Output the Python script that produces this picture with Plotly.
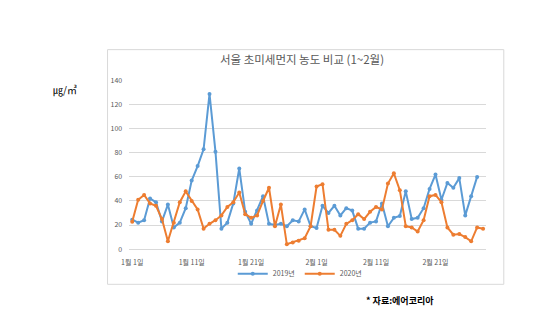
import plotly.graph_objects as go

title_text = "서울 초미세먼지 농도 비교 (1~2월)"
series_names = ["2019년", "2020년"]
tick_idx = [0, 10, 20, 31, 41, 51]
tick_labels = ["1월 1일", "1월 11일", "1월 21일", "2월 1일", "2월 11일", "2월 21일"]
y_ticks = [0, 20, 40, 60, 80, 100, 120, 140]

pm_2019 = [24.5, 22, 24, 42, 39, 23, 37, 18, 22, 34,
           57, 69, 83, 129, 81, 17, 22, 38, 67, 31,
           21, 32, 44, 21, 20, 21, 19, 24, 23, 33,
           19, 17.5, 36, 30, 36, 28, 34, 32, 17, 17,
           22, 23, 38, 19, 26, 27.6, 48, 25, 26, 34,
           50, 62, 41, 55, 51, 59, 28, 44, 60]
pm_2020 = [22.7, 41, 45, 38, 36, 25, 6.5, 22, 39, 48,
           40, 33, 17, 21, 24, 28, 35, 39, 47, 29,
           26, 28, 40, 51, 19, 37, 4, 5.5, 7, 9,
           19, 52, 54, 16, 16, 11, 21, 24, 29, 25,
           31, 35, 33, 54.5, 63, 49, 19, 18, 14.6, 24,
           44, 45, 39, 18, 12, 12.5, 10, 6.5, 18, 17]

colors = ["#5B9BD5", "#ED7D31"]
FONT = "Noto Sans CJK KR"
W, H = 558, 330

fig = go.Figure()
for name, vals, c in zip(series_names, [pm_2019, pm_2020], colors):
    fig.add_trace(go.Scatter(
        x=list(range(len(vals))), y=vals, name=name, mode="lines+markers",
        line=dict(color=c, width=2), marker=dict(color=c, size=4, symbol="circle"),
    ))

fig.update_layout(
    width=W, height=H, margin=dict(l=0, r=0, t=0, b=0),
    paper_bgcolor="white", plot_bgcolor="white",
    font=dict(family=FONT, color="#595959", size=7),
    title=dict(text=title_text, x=302 / W, xanchor="center", y=1 - 60 / H, yanchor="middle",
               font=dict(family=FONT, size=11.5, color="#595959")),
    xaxis=dict(domain=[123 / W, 485 / W], range=[-0.5, 59.5], tickmode="array",
               tickvals=tick_idx, ticktext=tick_labels, showgrid=False, zeroline=False,
               showline=True, linecolor="#d9d9d9", linewidth=1, ticks="",
               ticklabelstandoff=6,
               tickfont=dict(size=7, color="#595959")),
    yaxis=dict(domain=[1 - 250.7 / H, 1 - 77 / H], range=[0, 140], tickmode="array",
               tickvals=y_ticks, showgrid=True, gridcolor="#d9d9d9", gridwidth=1,
               zeroline=False, ticks="", ticklabelstandoff=6,
               tickfont=dict(size=7, color="#595959")),
    legend=dict(orientation="h", x=296 / W, xanchor="center", y=1 - 276 / H, yanchor="middle",
                font=dict(size=7, color="#595959"), itemwidth=30, bgcolor="rgba(0,0,0,0)",
                tracegroupgap=0),
    showlegend=True,
)

fig.add_shape(type="rect", xref="paper", yref="paper",
              x0=101 / W, x1=503 / W, y0=1 - 287 / H, y1=1 - 45 / H,
              line=dict(color="#d9d9d9", width=1), fillcolor="rgba(0,0,0,0)", layer="below")

fig.add_annotation(text="㎍/㎥", xref="paper", yref="paper", x=58 / W, y=1 - 86 / H,
                   showarrow=False, xanchor="center", yanchor="middle",
                   font=dict(family=FONT, size=10, color="#000000"))
fig.add_annotation(text="<b>* 자료:에어코리아</b>", xref="paper", yref="paper", x=398 / W, y=1 - 304 / H,
                   showarrow=False, xanchor="center", yanchor="middle",
                   font=dict(family=FONT, size=9, color="#000000"))

fig.write_html("out.html")
